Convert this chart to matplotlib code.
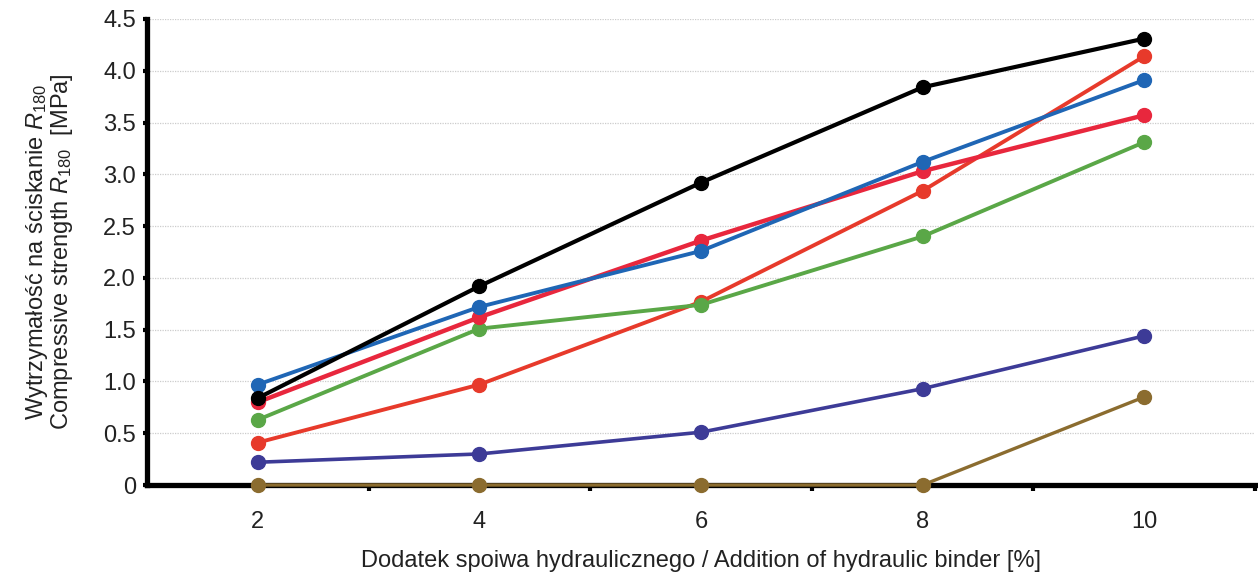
import matplotlib
matplotlib.use("Agg")
import matplotlib.pyplot as plt
from matplotlib.ticker import FuncFormatter

plt.rcParams['font.family'] = ['Liberation Sans', 'DejaVu Sans']
plt.rcParams['mathtext.fontset'] = 'custom'
plt.rcParams['mathtext.rm'] = 'Liberation Sans'
plt.rcParams['mathtext.it'] = 'Liberation Sans:italic'

x = [2, 4, 6, 8, 10]
brown = [0.0, 0.0, 0.0, 0.0, 0.85]
purple = [0.22, 0.30, 0.51, 0.93, 1.44]
orange_red = [0.41, 0.97, 1.77, 2.84, 4.14]
green = [0.63, 1.51, 1.74, 2.40, 3.31]
crimson = [0.80, 1.62, 2.36, 3.03, 3.57]
blue = [0.97, 1.72, 2.26, 3.12, 3.91]
black = [0.84, 1.92, 2.92, 3.84, 4.31]

yticks = [0, 0.5, 1.0, 1.5, 2.0, 2.5, 3.0, 3.5, 4.0, 4.5]
xticks = [2, 4, 6, 8, 10]
xminor = [3, 5, 7, 9, 11]

fig = plt.figure(figsize=(12.58, 5.74), dpi=100)
ax = fig.add_axes([0.1169, 0.155, 0.8807, 0.812])

series = [
    (brown, '#8b6c2f', 2.4),
    (purple, '#3d3b97', 2.6),
    (orange_red, '#e73a2b', 2.8),
    (green, '#5aa747', 2.8),
    (crimson, '#e8273d', 3.2),
    (blue, '#1f66b5', 2.8),
    (black, '#000000', 3.0),
]
for vals, col, lw in series:
    ax.plot(x, vals, color=col, lw=lw, marker='o', ms=10, clip_on=False, zorder=5)

ax.set_xlim(1, 11)
ax.set_ylim(0, 4.5)
ax.set_yticks(yticks)
ax.yaxis.set_major_formatter(FuncFormatter(lambda v, p: '0' if v == 0 else f'{v:.1f}'))
ax.set_xticks(xticks)
ax.set_xticks(xminor, minor=True)
ax.tick_params(axis='x', which='major', length=0, pad=19, labelsize=17, colors='#222222')
ax.tick_params(axis='x', which='minor', length=4, width=3, direction='out', color='black')
ax.tick_params(axis='y', which='major', length=3, width=3, direction='out', pad=5, labelsize=17, colors='black', labelcolor='#222222')

ax.grid(axis='y', color='#cccccc', linestyle=(0, (1, 1)), lw=0.9)
ax.set_axisbelow(True)
for s in ['top', 'right']:
    ax.spines[s].set_visible(False)
ax.spines['left'].set_linewidth(3.8)
ax.spines['bottom'].set_linewidth(3.8)
ax.spines['bottom'].set_zorder(4)

ax.set_xlabel('Dodatek spoiwa hydraulicznego / Addition of hydraulic binder [%]', fontsize=17, color='#222222', labelpad=12)
ax.set_ylabel('Wytrzymałość na ściskanie $R_{180}$\nCompressive strength $R_{180}$  [MPa]', fontsize=17, color='#222222', labelpad=20, linespacing=0.95)

fig.savefig('out.png', dpi=100)
